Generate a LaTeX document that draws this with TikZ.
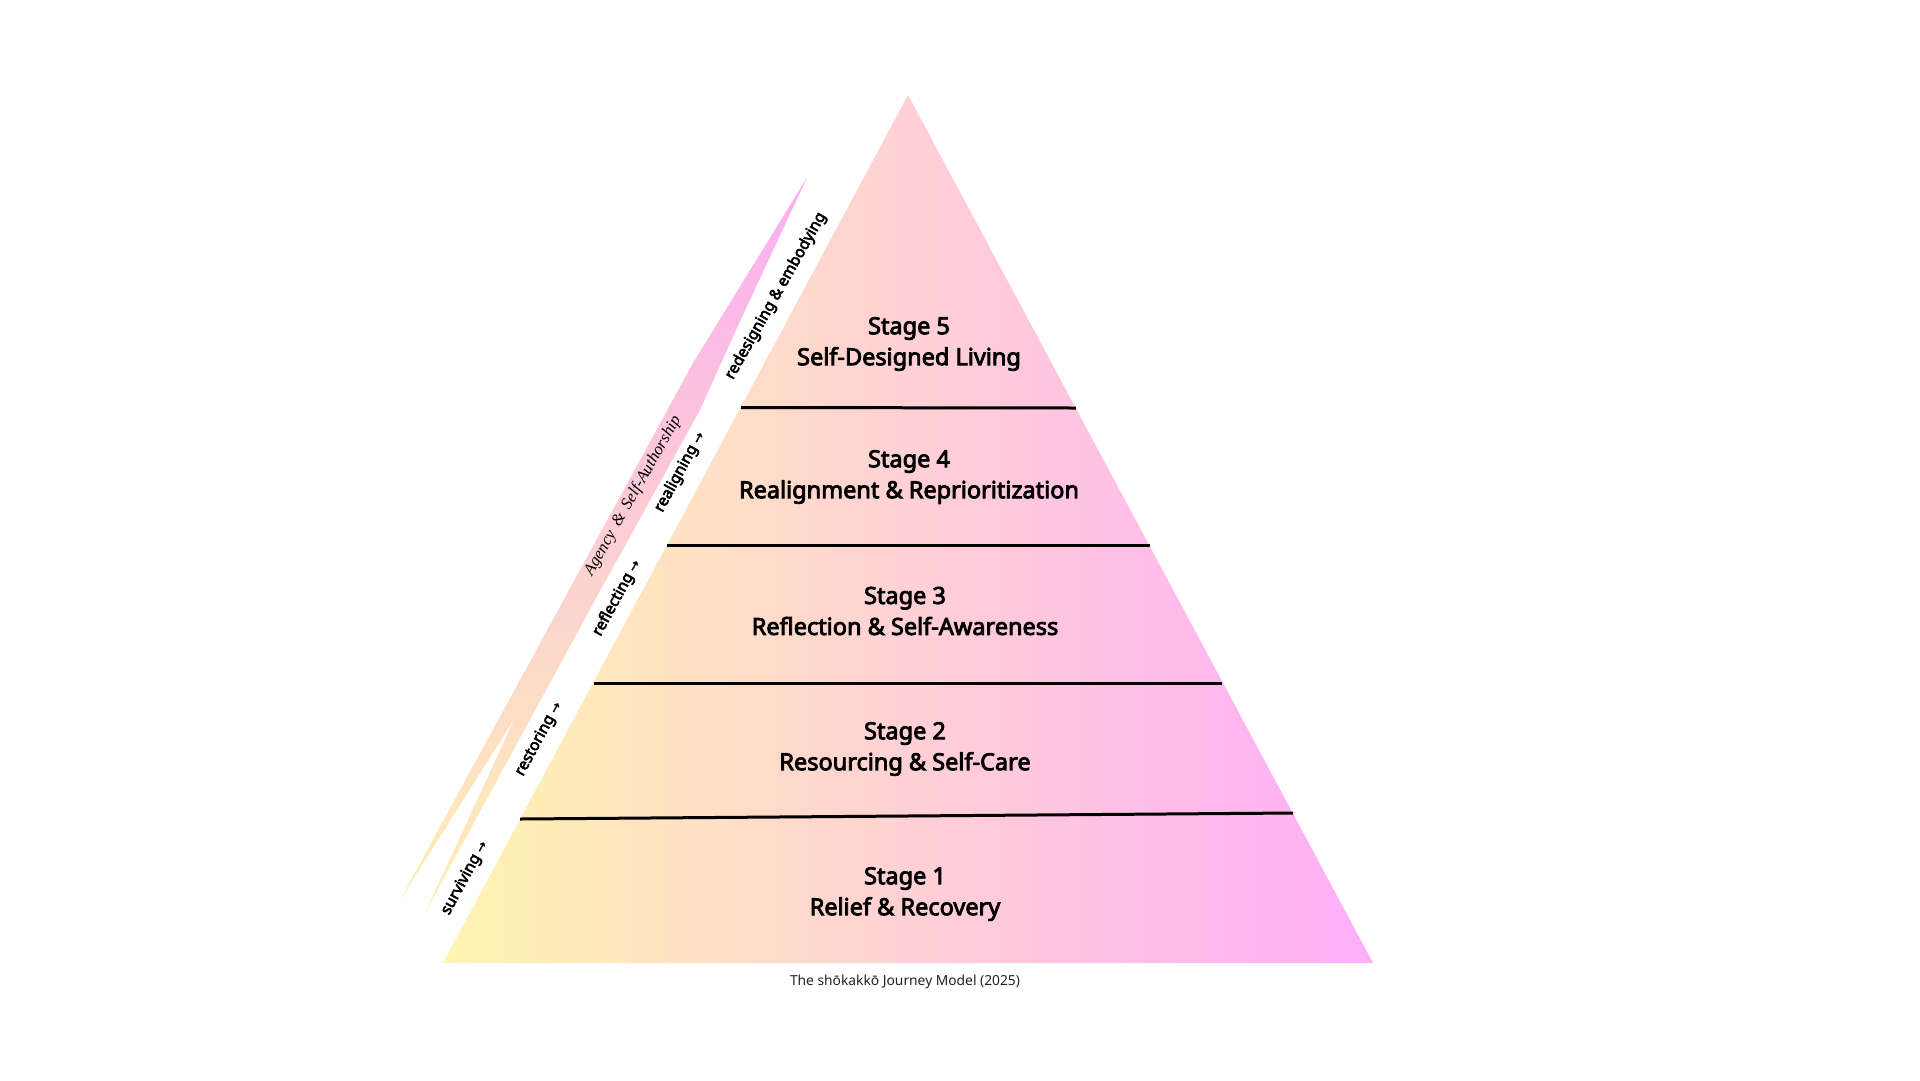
\documentclass[tikz,border=0pt]{standalone}
\usepackage{fontspec}
\setmainfont{Noto Sans}
\newfontfamily\boldsans{Noto Sans}[FakeBold=3.6]
\newfontfamily\serifit{Liberation Serif}
\newfontfamily\arrowfont{DejaVu Sans}[FakeBold=1.5]
\definecolor{triL}{HTML}{FFF4B0}
\definecolor{triM}{HTML}{FFD2CF}
\definecolor{triR}{HTML}{FFADF9}
\definecolor{stripB}{HTML}{FDF0B3}
\definecolor{stripM}{HTML}{FDD5CC}
\definecolor{stripT}{HTML}{FBAEF2}
\definecolor{captext}{HTML}{222222}
\begin{document}
\begin{tikzpicture}[x=1pt,y=-1pt,
  stagetext/.style={font=\boldsans\fontsize{23.5}{31}\selectfont, align=center, text=black, inner sep=0pt},
  bandlabel/.style={font=\boldsans\fontsize{15.5}{17}\selectfont, rotate=61.5, inner sep=0pt, text=black},
  divider/.style={line width=3pt, black}]
\path[fill=white] (0,0) rectangle (1920,1080);
\useasboundingbox (0,0) rectangle (1920,1080);

% colored strip
\shade[top color=stripT, middle color=stripM, bottom color=stripB]
  (806.7,178) -- (736,330) -- (700,410) -- (595,600) -- (425,913)
  -- (515,718) -- (400,900) -- (693,363) -- cycle;

% pyramid
\coordinate (apex) at (908,95);
\coordinate (bl) at (443,963);
\coordinate (br) at (1373,963);
\shade[left color=triL, middle color=triM, right color=triR] (apex) -- (br) -- (bl) -- cycle;

% dividers
\coordinate (d1l) at (520,819);  \coordinate (d1r) at (1293,813);
\coordinate (d2l) at (593.5,683); \coordinate (d2r) at (1222,683);
\coordinate (d3l) at (667,545);  \coordinate (d3r) at (1150,545);
\coordinate (d4l) at (741,407.5); \coordinate (d4r) at (1076,408);
\draw[divider] (d1l) -- (d1r);
\draw[divider] (d2l) -- (d2r);
\draw[divider] (d3l) -- (d3r);
\draw[divider] (d4l) -- (d4r);

% stage texts
\node[stagetext] (s5) at (909,344) {Stage 5\\Self-Designed Living};
\node[stagetext] (s4) at (909,477) {Stage 4\\Realignment \& Reprioritization};
\node[stagetext] (s3) at (905,611) {Stage 3\\Reflection \& Self-Awareness};
\node[stagetext] (s2) at (905,749) {Stage 2\\Resourcing \& Self-Care};
\node[stagetext] (s1) at (905,894) {Stage 1\\Relief \& Recovery};

% band labels
\node[bandlabel] (l1) at (465,878) {surviving {\arrowfont\fontsize{13}{14}\selectfont →}};
\node[bandlabel] (l2) at (539,739) {restoring {\arrowfont\fontsize{13}{14}\selectfont →}};
\node[bandlabel] (l3) at (617,598) {reflecting {\arrowfont\fontsize{13}{14}\selectfont →}};
\node[bandlabel] (l4) at (680,472) {realigning {\arrowfont\fontsize{13}{14}\selectfont →}};
\node[bandlabel, rotate=-1] (l5) at (776,296) {redesigning \& embodying};
\node[font=\serifit\itshape\fontsize{16.7}{18}\selectfont, rotate=60.5, inner sep=0pt, text=black] (agency) at (633,496) {Agency \,\&\, Self-Authorship};

% caption
\node[font=\fontsize{13.8}{16}\selectfont, text=captext, inner sep=0pt] (cap) at (905,982) {The shōkakkō Journey Model (2025)};
\end{tikzpicture}
\end{document}
